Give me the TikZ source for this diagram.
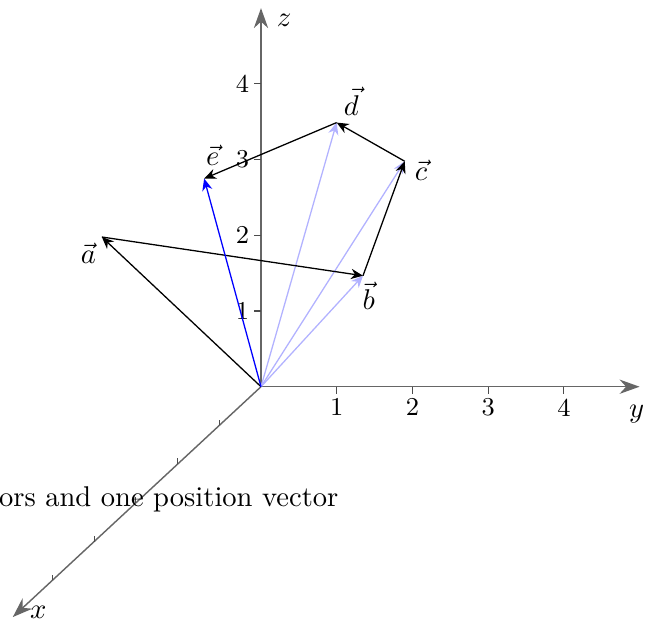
\documentclass[tikz,border=0pt]{standalone}
\usetikzlibrary{positioning,arrows.meta}

\begin{document}
\begin{tikzpicture}[x={(-14.6pt,-13.55pt)}, y={(26.5pt,0pt)}, z={(0pt,26.5pt)},
  axis/.style={draw=black!60, line width=0.5pt, -{Stealth[length=7pt,width=5pt]}},
  axistick/.style={draw=black!70, line width=0.4pt},
  vec/.style={-{Stealth[length=4.2pt,width=3.6pt]}, line width=0.45pt},
  posvec/.style={vec, draw=blue!30},
  ticklabel/.style={font=\small, inner sep=1.5pt}]
\useasboundingbox (-91.35pt,-81.66pt) rectangle (135.8pt,135.35pt);
% axes
\coordinate (O) at (0,0,0);
\coordinate (xend) at (5.95,0,0);
\coordinate (yend) at (0,5,0);
\coordinate (zend) at (0,0,5);
\draw[axis] (O) -- (xend) node[right=2.5pt, yshift=1.5pt] {$x$};
\draw[axis] (O) -- (yend) node[below=3pt, xshift=-1pt] {$y$};
\draw[axis] (O) -- (zend) node[below right=-1.5pt and 2pt] {$z$};
\foreach \k in {1,...,5}
  \draw[axistick] (\k,0,0) -- ++(0pt,2pt);
\foreach \k in {1,...,4}{
  \draw[axistick] (0,\k,0) -- ++(0pt,-2.5pt) node[below, ticklabel] {\k};
  \draw[axistick] (0,0,\k) -- ++(-2.5pt,0pt) node[left, ticklabel] {\k};
}
% tips of the vectors
\coordinate (A) at (2,-1,3);
\coordinate (B) at (3,3,3);
\coordinate (C) at (2,3,4);
\coordinate (D) at (1,1.55,4);
\coordinate (E) at (1,-0.2,3.26);
\draw[posvec] (O) -- (B);
\draw[posvec] (O) -- (C);
\draw[posvec] (O) -- (D);
\draw[vec] (O) -- (A) node[below left=-1.5pt and -1.5pt] {$\vec{a}$};
\draw[vec] (A) -- (B) node[below=-1.5pt, xshift=2pt] {$\vec{b}$};
\draw[vec] (B) -- (C) node[right=0pt, yshift=-3pt] {$\vec{c}$};
\draw[vec] (C) -- (D) node[above right=-1pt and -1pt] {$\vec{d}$};
\draw[vec] (D) -- (E) node[above=1pt, xshift=3pt] {$\vec{e}$};
\draw[vec, draw=blue] (O) -- (E);
% caption, cut at the left edge
\node[anchor=base east, inner sep=0pt] (caption) at (27.3pt,-42pt) {ors and one position vector};
\end{tikzpicture}
\end{document}
